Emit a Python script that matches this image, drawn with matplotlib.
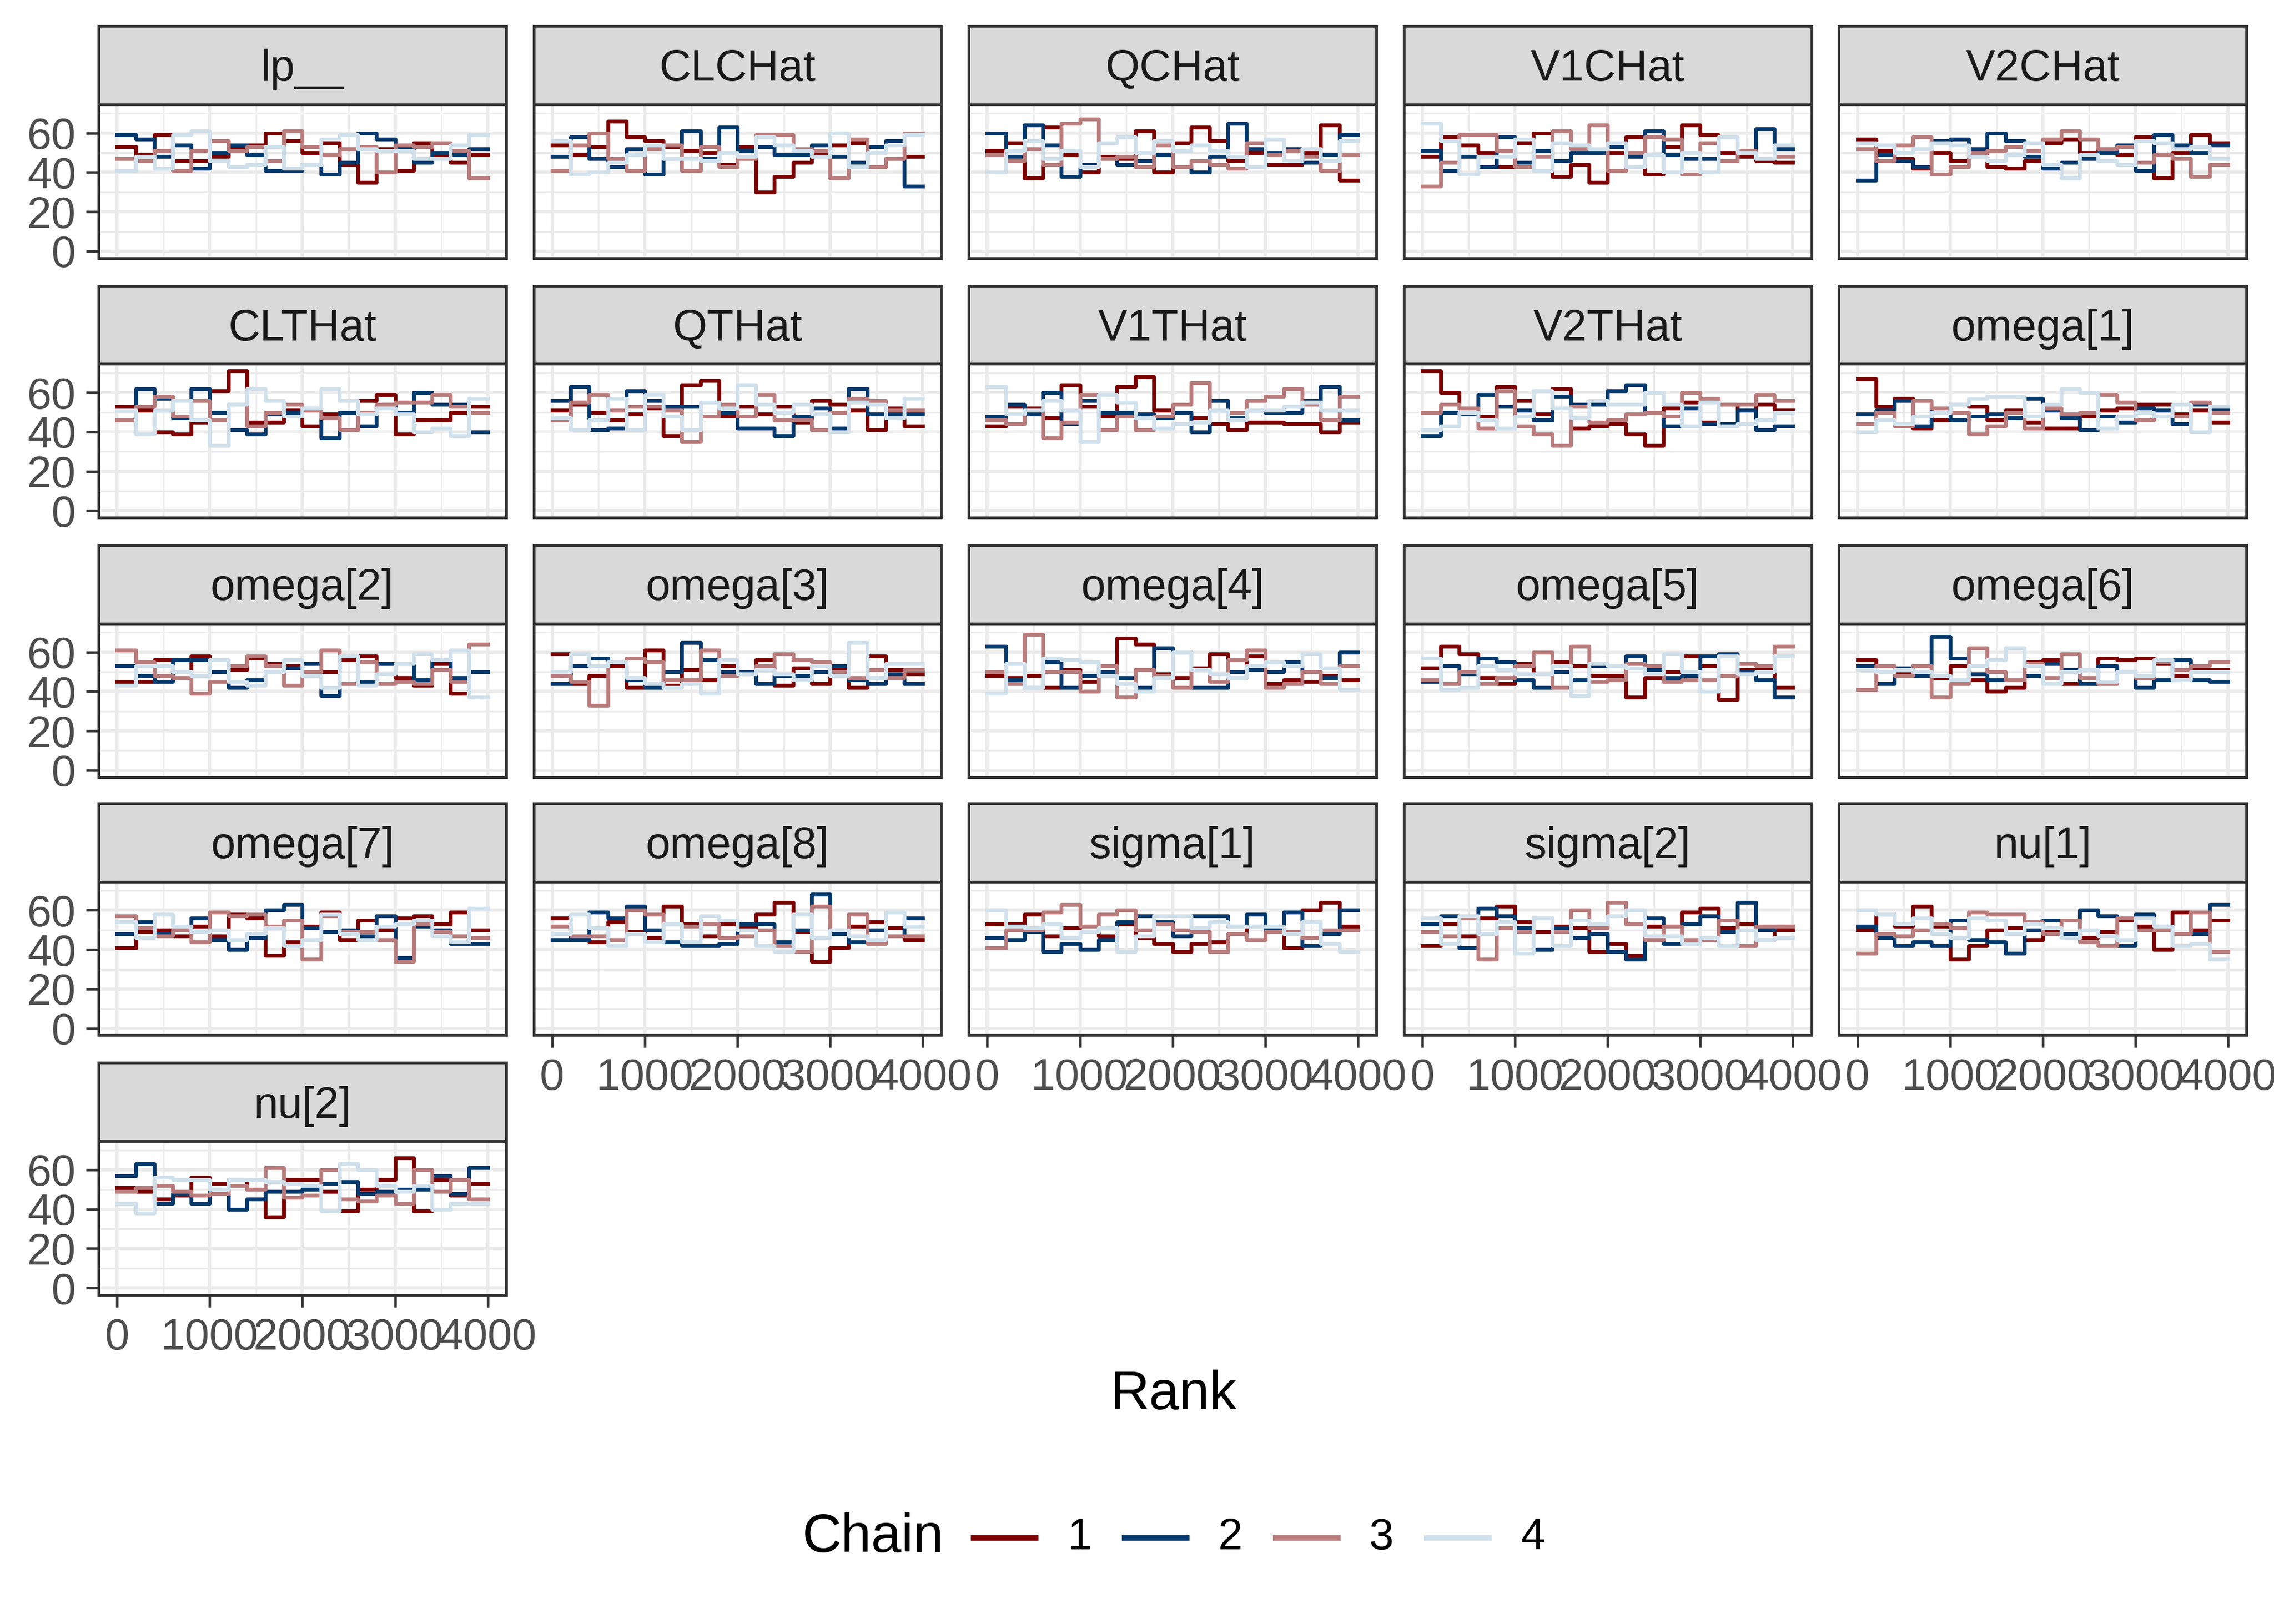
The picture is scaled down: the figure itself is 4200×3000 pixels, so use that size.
import numpy as np
import matplotlib.pyplot as plt
from matplotlib.patches import Rectangle
from matplotlib.lines import Line2D

plt.rcParams['font.family'] = ['Liberation Sans', 'DejaVu Sans']


# DATA: rank histogram counts, 20 bins of 200 ranks, chains 1..4
params = ['lp__', 'CLCHat', 'QCHat', 'V1CHat', 'V2CHat',
          'CLTHat', 'QTHat', 'V1THat', 'V2THat', 'omega[1]',
          'omega[2]', 'omega[3]', 'omega[4]', 'omega[5]', 'omega[6]',
          'omega[7]', 'omega[8]', 'sigma[1]', 'sigma[2]', 'nu[1]',
          'nu[2]']

chains = ['1', '2', '3', '4']
chain_colors = ['#7C0000', '#03396C', '#B97C7C', '#D1E1EC']

bin_starts = np.arange(0, 4000, 200)
rank_max = 4000

lp_counts = [
    [53, 49, 59, 46, 46, 48, 52, 54, 60, 56, 50, 55, 44, 35, 52, 41, 55, 48, 45, 49],
    [59, 57, 48, 54, 42, 50, 54, 49, 41, 41, 44, 39, 45, 60, 57, 52, 45, 50, 49, 52],
    [47, 46, 51, 41, 51, 56, 51, 53, 46, 61, 53, 49, 52, 53, 40, 54, 53, 55, 51, 37],
    [41, 48, 42, 59, 61, 46, 43, 44, 53, 42, 44, 57, 59, 52, 51, 51, 47, 47, 54, 59],
]
clchat_counts = [
    [54, 49, 53, 66, 58, 56, 53, 51, 50, 44, 53, 30, 38, 45, 50, 54, 55, 43, 47, 48],
    [48, 58, 47, 43, 52, 39, 47, 61, 47, 63, 51, 53, 49, 49, 54, 48, 45, 53, 56, 33],
    [41, 54, 60, 47, 41, 52, 54, 41, 53, 43, 47, 59, 59, 52, 51, 37, 57, 43, 47, 60],
    [56, 39, 40, 45, 49, 54, 47, 47, 46, 50, 48, 58, 54, 51, 48, 60, 43, 50, 54, 59],
]
qchat_counts = [
    [51, 55, 37, 63, 49, 40, 48, 47, 61, 40, 55, 63, 56, 46, 50, 44, 44, 50, 64, 36],
    [60, 48, 64, 54, 38, 44, 47, 44, 46, 49, 43, 40, 48, 65, 52, 50, 52, 45, 49, 59],
    [49, 46, 52, 44, 65, 67, 47, 48, 43, 54, 43, 46, 44, 42, 55, 49, 51, 48, 41, 49],
    [40, 51, 56, 47, 51, 43, 55, 58, 50, 56, 51, 54, 51, 48, 43, 57, 46, 52, 46, 56],
]
v1chat_counts = [
    [48, 58, 54, 50, 43, 55, 60, 38, 44, 35, 50, 58, 39, 53, 64, 59, 50, 48, 46, 45],
    [51, 41, 48, 43, 58, 45, 51, 46, 50, 50, 53, 48, 61, 49, 47, 47, 46, 51, 62, 52],
    [33, 45, 59, 59, 51, 43, 48, 61, 52, 64, 41, 50, 58, 57, 39, 55, 46, 51, 47, 48],
    [65, 56, 39, 48, 48, 57, 41, 55, 54, 52, 55, 43, 49, 40, 50, 40, 58, 50, 47, 54],
]
v2chat_counts = [
    [57, 51, 47, 42, 50, 46, 50, 43, 42, 46, 55, 57, 50, 52, 49, 58, 37, 50, 59, 55],
    [36, 49, 46, 43, 56, 57, 52, 60, 56, 48, 42, 45, 47, 50, 54, 41, 59, 54, 50, 54],
    [52, 46, 54, 58, 39, 43, 50, 51, 53, 51, 57, 61, 57, 52, 53, 45, 49, 47, 38, 44],
    [55, 54, 50, 52, 55, 54, 48, 46, 49, 55, 44, 37, 49, 46, 44, 56, 55, 52, 53, 47],
]
clthat_counts = [
    [53, 51, 40, 39, 45, 61, 71, 45, 45, 51, 43, 49, 50, 56, 59, 39, 46, 46, 50, 53],
    [51, 62, 57, 47, 62, 50, 41, 39, 49, 50, 52, 37, 50, 43, 54, 50, 60, 54, 54, 40],
    [46, 53, 58, 48, 56, 46, 54, 43, 50, 54, 51, 47, 41, 50, 54, 55, 55, 59, 53, 50],
    [51, 39, 51, 56, 46, 33, 54, 62, 56, 48, 52, 62, 56, 49, 52, 49, 40, 42, 38, 57],
]
qthat_counts = [
    [51, 54, 50, 46, 49, 52, 38, 64, 66, 48, 53, 49, 53, 45, 56, 54, 51, 41, 52, 43],
    [56, 63, 41, 42, 61, 56, 53, 53, 48, 50, 42, 42, 38, 48, 52, 42, 62, 49, 49, 49],
    [46, 55, 59, 51, 53, 53, 51, 35, 48, 54, 48, 59, 46, 46, 41, 50, 57, 56, 51, 51],
    [47, 41, 46, 57, 41, 59, 48, 41, 55, 52, 64, 54, 50, 54, 49, 40, 55, 54, 47, 57],
]
v1that_counts = [
    [43, 53, 52, 47, 64, 53, 48, 63, 68, 51, 50, 47, 44, 41, 45, 45, 44, 44, 40, 45],
    [48, 54, 49, 60, 44, 56, 50, 50, 49, 47, 50, 40, 56, 47, 51, 50, 50, 56, 63, 46],
    [46, 44, 51, 37, 45, 59, 41, 48, 41, 48, 54, 65, 51, 50, 56, 58, 62, 54, 46, 58],
    [63, 49, 51, 56, 51, 35, 59, 55, 47, 42, 44, 45, 51, 46, 51, 51, 53, 55, 51, 51],
]
v2that_counts = [
    [71, 60, 52, 48, 63, 56, 49, 62, 42, 43, 44, 39, 33, 52, 55, 45, 54, 51, 54, 51],
    [38, 50, 49, 59, 53, 51, 46, 58, 54, 54, 61, 64, 50, 43, 52, 44, 44, 51, 41, 43],
    [50, 54, 52, 42, 61, 43, 39, 33, 53, 45, 46, 49, 50, 48, 60, 57, 54, 54, 59, 56],
    [41, 43, 50, 46, 42, 48, 61, 52, 47, 56, 54, 54, 60, 54, 43, 55, 43, 44, 46, 50],
]
omega1_counts = [
    [67, 53, 57, 42, 46, 54, 53, 46, 51, 45, 42, 42, 48, 51, 52, 54, 54, 49, 51, 45],
    [49, 51, 56, 43, 52, 46, 48, 49, 47, 57, 51, 47, 41, 48, 45, 52, 51, 44, 54, 51],
    [44, 50, 43, 56, 52, 50, 39, 43, 50, 42, 52, 49, 50, 59, 55, 46, 48, 48, 55, 50],
    [40, 46, 44, 48, 50, 54, 57, 58, 58, 48, 54, 62, 60, 42, 48, 50, 48, 54, 40, 53],
]
omega2_counts = [
    [45, 45, 56, 50, 58, 50, 51, 57, 54, 53, 50, 50, 56, 58, 54, 47, 43, 54, 39, 50],
    [53, 48, 45, 56, 56, 50, 42, 46, 50, 52, 54, 38, 58, 45, 54, 54, 46, 56, 47, 50],
    [61, 55, 48, 47, 39, 45, 53, 58, 53, 43, 50, 61, 44, 55, 44, 45, 44, 51, 45, 64],
    [43, 53, 53, 50, 48, 56, 45, 43, 50, 56, 48, 42, 58, 43, 49, 54, 59, 56, 61, 37],
]
omega3_counts = [
    [59, 44, 48, 53, 42, 61, 43, 51, 46, 53, 50, 56, 43, 52, 44, 51, 42, 58, 51, 49],
    [44, 53, 57, 55, 46, 42, 50, 65, 56, 50, 50, 44, 48, 48, 50, 53, 46, 44, 49, 44],
    [48, 45, 33, 55, 57, 55, 46, 46, 61, 48, 49, 53, 59, 56, 55, 50, 47, 51, 47, 51],
    [50, 59, 53, 55, 47, 44, 42, 44, 39, 56, 49, 51, 49, 46, 53, 48, 65, 47, 54, 54],
]
omega4_counts = [
    [48, 47, 48, 42, 51, 45, 53, 67, 64, 49, 47, 52, 59, 47, 58, 44, 46, 45, 48, 46],
    [63, 46, 42, 55, 42, 48, 50, 47, 42, 62, 60, 42, 42, 50, 51, 50, 55, 50, 47, 60],
    [50, 44, 69, 50, 50, 40, 53, 37, 51, 48, 42, 51, 45, 56, 61, 42, 44, 50, 44, 53],
    [39, 54, 42, 57, 56, 55, 48, 44, 40, 47, 60, 51, 49, 47, 53, 55, 53, 59, 52, 41],
]
omega5_counts = [
    [52, 63, 59, 47, 44, 54, 49, 55, 53, 48, 48, 37, 47, 50, 58, 53, 36, 51, 51, 42],
    [45, 53, 49, 57, 55, 46, 42, 50, 46, 53, 53, 58, 51, 47, 48, 58, 59, 50, 46, 37],
    [46, 44, 50, 44, 47, 53, 60, 42, 63, 45, 46, 54, 53, 45, 46, 46, 48, 54, 53, 63],
    [57, 41, 42, 53, 51, 49, 49, 53, 38, 54, 53, 52, 49, 59, 50, 40, 58, 49, 50, 58],
]
omega6_counts = [
    [56, 50, 49, 53, 47, 53, 46, 40, 42, 55, 56, 44, 47, 57, 56, 57, 54, 48, 51, 51],
    [53, 44, 52, 48, 68, 57, 49, 46, 46, 48, 54, 51, 44, 53, 50, 42, 46, 56, 46, 45],
    [41, 53, 48, 53, 37, 44, 62, 50, 46, 54, 47, 59, 47, 44, 50, 47, 55, 51, 53, 55],
    [51, 50, 51, 50, 48, 46, 53, 56, 62, 53, 44, 50, 51, 45, 50, 48, 56, 46, 50, 50],
]
omega7_counts = [
    [41, 49, 50, 47, 52, 47, 58, 56, 37, 44, 52, 59, 45, 55, 50, 56, 57, 53, 59, 50],
    [48, 54, 48, 50, 56, 45, 40, 46, 60, 63, 51, 49, 50, 47, 57, 36, 52, 50, 43, 43],
    [57, 51, 47, 50, 44, 59, 57, 58, 52, 55, 35, 57, 49, 49, 45, 34, 53, 49, 47, 46],
    [54, 46, 58, 52, 49, 50, 45, 48, 51, 42, 45, 58, 48, 45, 52, 53, 55, 47, 44, 61],
]
omega8_counts = [
    [56, 46, 44, 54, 49, 46, 62, 53, 47, 53, 51, 58, 64, 49, 34, 41, 52, 54, 51, 45],
    [45, 45, 59, 56, 62, 50, 44, 42, 42, 43, 53, 53, 44, 50, 68, 48, 44, 50, 47, 56],
    [52, 47, 47, 45, 60, 58, 53, 52, 53, 46, 47, 50, 42, 39, 62, 50, 58, 43, 47, 47],
    [48, 58, 51, 42, 48, 44, 53, 44, 57, 55, 50, 42, 39, 58, 46, 50, 47, 45, 59, 52],
]
sigma1_counts = [
    [53, 53, 58, 47, 51, 52, 47, 53, 46, 43, 39, 43, 44, 48, 52, 49, 41, 60, 64, 52],
    [46, 45, 49, 39, 43, 40, 45, 54, 57, 54, 47, 57, 57, 52, 58, 50, 59, 42, 48, 60],
    [41, 50, 50, 59, 63, 52, 58, 60, 50, 53, 50, 49, 39, 48, 45, 49, 49, 46, 50, 50],
    [60, 52, 51, 53, 46, 49, 51, 39, 47, 57, 57, 51, 54, 52, 52, 52, 48, 54, 43, 39],
]
sigma2_counts = [
    [42, 53, 47, 56, 62, 54, 49, 52, 51, 39, 43, 37, 52, 52, 59, 61, 51, 53, 45, 50],
    [53, 57, 41, 61, 57, 51, 40, 51, 46, 48, 39, 35, 56, 43, 53, 57, 49, 64, 50, 52],
    [49, 47, 56, 35, 51, 49, 56, 49, 60, 51, 64, 53, 45, 52, 45, 45, 55, 42, 52, 52],
    [56, 43, 57, 48, 54, 38, 56, 42, 55, 53, 57, 60, 47, 47, 43, 46, 42, 50, 45, 46],
]
nu1_counts = [
    [50, 58, 52, 62, 52, 35, 42, 50, 51, 45, 50, 47, 46, 49, 55, 52, 40, 59, 50, 55],
    [52, 46, 42, 44, 42, 55, 45, 44, 38, 50, 55, 48, 60, 57, 42, 58, 52, 48, 48, 63],
    [38, 48, 47, 50, 53, 51, 59, 58, 58, 54, 48, 55, 44, 42, 56, 50, 50, 48, 59, 39],
    [60, 58, 53, 56, 48, 46, 56, 55, 48, 53, 51, 46, 50, 47, 45, 56, 52, 42, 43, 35],
]
nu2_counts = [
    [51, 49, 45, 47, 56, 53, 55, 50, 36, 55, 55, 49, 39, 50, 55, 66, 39, 55, 47, 53],
    [57, 63, 43, 48, 43, 50, 40, 45, 49, 49, 50, 53, 54, 48, 49, 50, 50, 57, 48, 61],
    [49, 51, 52, 49, 47, 48, 52, 50, 61, 46, 47, 60, 45, 44, 47, 43, 60, 49, 55, 45],
    [43, 38, 56, 55, 55, 50, 55, 55, 54, 53, 52, 39, 63, 60, 52, 49, 52, 40, 43, 43],
]

counts_by_param = {
    'lp__': lp_counts, 'CLCHat': clchat_counts, 'QCHat': qchat_counts,
    'V1CHat': v1chat_counts, 'V2CHat': v2chat_counts,
    'CLTHat': clthat_counts, 'QTHat': qthat_counts, 'V1THat': v1that_counts,
    'V2THat': v2that_counts, 'omega[1]': omega1_counts,
    'omega[2]': omega2_counts, 'omega[3]': omega3_counts,
    'omega[4]': omega4_counts, 'omega[5]': omega5_counts,
    'omega[6]': omega6_counts, 'omega[7]': omega7_counts,
    'omega[8]': omega8_counts, 'sigma[1]': sigma1_counts,
    'sigma[2]': sigma2_counts, 'nu[1]': nu1_counts, 'nu[2]': nu2_counts,
}


# LAYOUT (measured on a 1568 x 1120 grid)
W, H = 1568.0, 1120.0
col_left = [68, 368, 668, 968, 1268]
row_top = [72, 251, 430, 608, 787]
pw, ph = 281, 106
strip_h = 54 / ph

ymax = max(max(max(c) for c in counts_by_param[p]) for p in params)
ylim = (-0.05 * ymax, 1.05 * ymax)

fig = plt.figure(figsize=(14, 10), dpi=300)

x_step = np.append(bin_starts, rank_max)

for i, name in enumerate(params):
    r, c = divmod(i, 5)
    ax = fig.add_axes([col_left[c] / W, 1 - (row_top[r] + ph) / H, pw / W, ph / H])

    for k in range(4):
        vals = counts_by_param[name][k]
        ax.step(x_step, np.append(vals, vals[-1]), where='post',
                color=chain_colors[k], lw=1.7, zorder=3)

    ax.set_xlim(-200, 4200)
    ax.set_ylim(*ylim)
    ax.set_xticks([0, 1000, 2000, 3000, 4000])
    ax.set_xticks([500, 1500, 2500, 3500], minor=True)
    ax.set_yticks([0, 20, 40, 60])
    ax.set_yticks([10, 30, 50, 70], minor=True)

    ax.grid(True, which='major', color='#EBEBEB', lw=1.4)
    ax.grid(True, which='minor', color='#EBEBEB', lw=0.7)
    ax.set_axisbelow(True)

    for s in ax.spines.values():
        s.set_color('#333333')
        s.set_linewidth(1.2)
        s.set_zorder(4)

    ax.tick_params(which='major', length=5.5, width=1.1, color='#333333',
                   labelsize=19.5, labelcolor='#4D4D4D', pad=4.5)
    ax.tick_params(which='minor', length=0)

    is_bottom = (r == 4) or (r == 3 and c > 0)
    if not is_bottom:
        ax.tick_params(bottom=False, labelbottom=False)
    if c != 0:
        ax.tick_params(left=False, labelleft=False)

    # strip
    ax.add_patch(Rectangle((0, 1), 1, strip_h, transform=ax.transAxes,
                           clip_on=False, facecolor='#D9D9D9',
                           edgecolor='#333333', lw=1.2, zorder=5))
    ax.text(0.5, 1 + strip_h / 2 - 0.028, name, transform=ax.transAxes,
            ha='center', va='center', fontsize=19.5, color='#1A1A1A',
            zorder=6)


# AXIS TITLE
fig.text(0.516, 0.141, 'Rank', ha='center', va='center', fontsize=24)

# LEGEND
leg_y = 0.053
fig.text(1482 / 4200, leg_y, 'Chain', ha='left', va='center', fontsize=24)
for k in range(4):
    x0 = (1798 + 279 * k) / 4200
    x1 = (1913 + 279 * k) / 4200
    fig.add_artist(Line2D([x0, x1], [leg_y, leg_y], transform=fig.transFigure,
                          color=chain_colors[k], lw=2.4))
    fig.text((1994 + 279 * k) / 4200, leg_y, chains[k], ha='center',
             va='center', fontsize=19.5)

plt.savefig('out.png', dpi=300, facecolor='white')
